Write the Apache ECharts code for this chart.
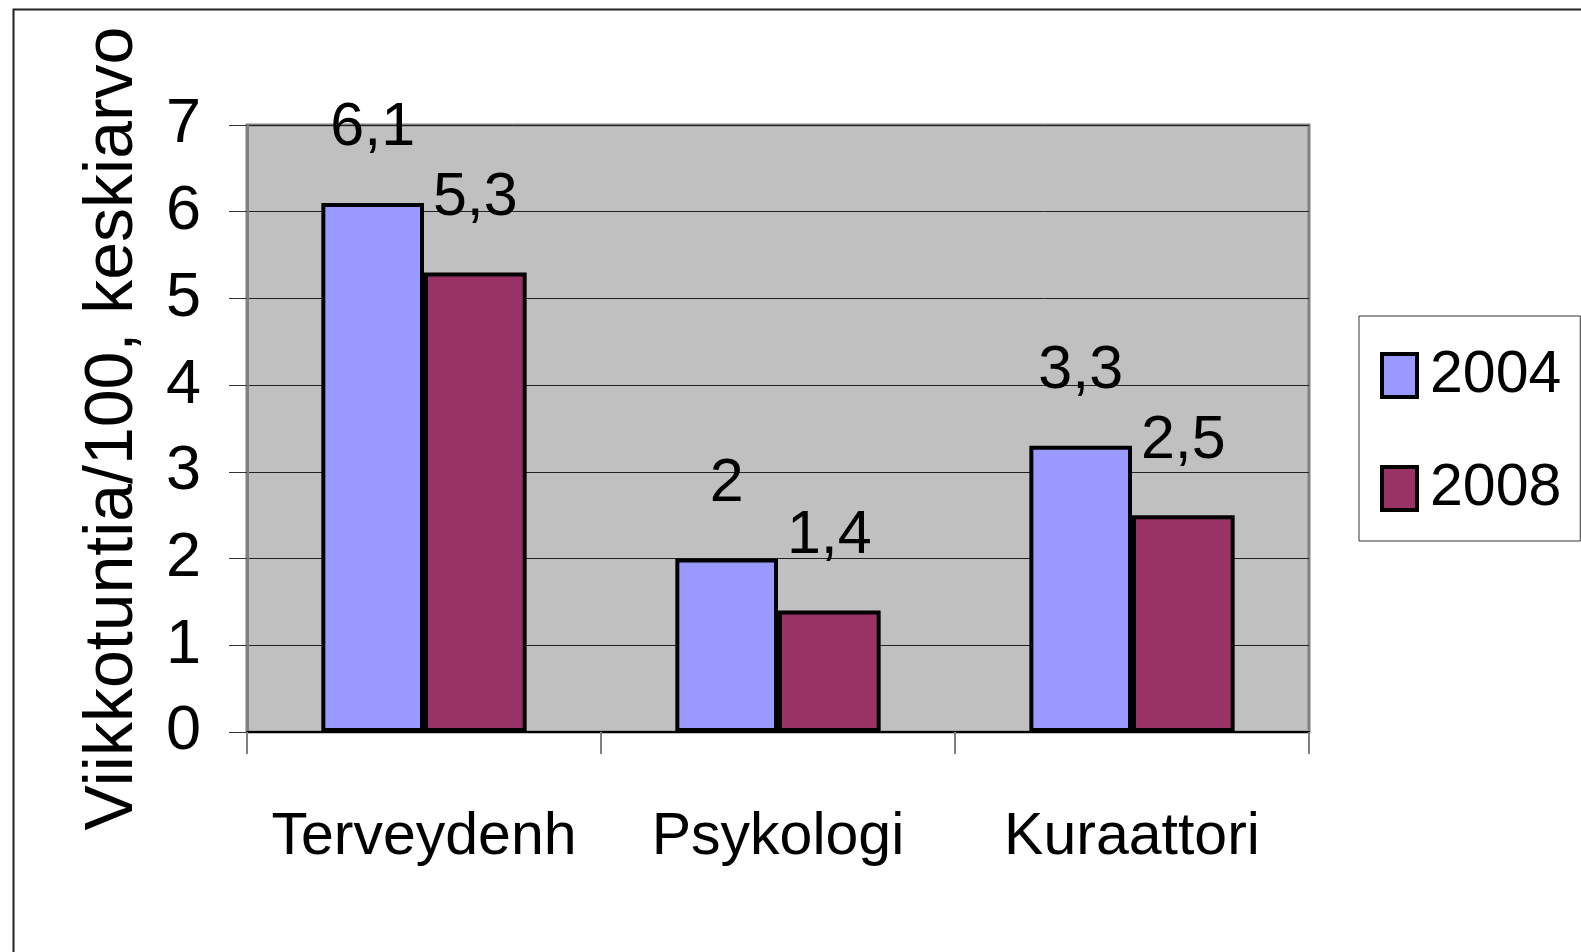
<!DOCTYPE html>
<html>
<head>
<meta charset="utf-8">
<script src="https://cdn.jsdelivr.net/npm/echarts@6/dist/echarts.min.js"></script>
<style>
html,body{margin:0;padding:0;background:#fff;}
#c{width:1581px;height:952px;}
</style>
</head>
<body>
<div id="c"></div>
<script>
const categories = ['Terveydenh', 'Psykologi', 'Kuraattori'];
const seriesNames = ['2004', '2008'];
const values2004 = [6.1, 2.0, 3.3];
const values2008 = [5.3, 1.4, 2.5];
const yAxisName = 'Viikkotuntia/100, keskiarvo';

const NARROW = '"Liberation Sans Narrow", "Arial Narrow", "Liberation Sans", Arial, sans-serif';
const REG = '"Liberation Sans", Arial, sans-serif';
const FS = 59;

const chart = echarts.init(document.getElementById('c'), null, {renderer: 'canvas'});

const labelFmt = p => String(p.value).replace('.', ',');

chart.setOption({
  backgroundColor: '#ffffff',
  animation: false,
  graphic: [{
    type: 'rect',
    left: 11, top: 7,
    shape: {width: 1700, height: 1100},
    style: {fill: 'none', stroke: '#222', lineWidth: 2},
    silent: true, z: -1
  }],
  grid: {
    left: 247, top: 125, right: 272, bottom: 220,
    show: true, backgroundColor: '#C0C0C0', borderColor: '#808080', borderWidth: 3
  },
  legend: {
    orient: 'vertical',
    left: 1359, top: 316,
    padding: [30, 19, 23, 21],
    itemWidth: 35, itemHeight: 43, itemGap: 54,
    borderColor: '#333', borderWidth: 1,
    backgroundColor: '#fff',
    icon: 'rect',
    itemStyle: {borderColor: '#000', borderWidth: 4},
    textStyle: {fontFamily: NARROW, fontSize: FS, color: '#000', padding: [0, 0, 0, 8]},
    data: seriesNames
  },
  xAxis: {
    type: 'category',
    data: categories,
    axisLine: {show: true, lineStyle: {color: '#000', width: 2}},
    axisTick: {show: true, length: 22, lineStyle: {color: '#808080', width: 2}},
    axisLabel: {interval: 0, fontFamily: NARROW, fontSize: FS, color: '#000', margin: 76}
  },
  yAxis: {
    type: 'value',
    min: 0, max: 7, interval: 1,
    name: yAxisName,
    nameLocation: 'middle',
    nameGap: 100,
    nameRotate: 90,
    nameTextStyle: {fontFamily: REG, fontSize: 68, color: '#000'},
    axisLine: {show: true, lineStyle: {color: '#808080', width: 3}},
    axisTick: {show: true, length: 18, lineStyle: {color: '#333', width: 1}},
    axisLabel: {fontFamily: NARROW, fontSize: FS + 4, color: '#000', margin: 46, padding: [0, 0, 16, 0]},
    splitLine: {show: true, lineStyle: {color: '#222', width: 1}}
  },
  series: [
    {
      name: seriesNames[0], type: 'bar', data: values2004,
      barGap: '0%', barCategoryGap: '42%',
      itemStyle: {color: '#9999FF', borderColor: '#000', borderWidth: 4},
      label: {show: true, position: 'top', distance: 44, formatter: labelFmt,
        fontFamily: NARROW, fontSize: FS + 2, color: '#000'}
    },
    {
      name: seriesNames[1], type: 'bar', data: values2008,
      barGap: '0%', barCategoryGap: '42%',
      itemStyle: {color: '#993366', borderColor: '#000', borderWidth: 4},
      label: {show: true, position: 'top', distance: 44, formatter: labelFmt,
        fontFamily: NARROW, fontSize: FS + 2, color: '#000'}
    }
  ]
});
</script>
</body>
</html>
